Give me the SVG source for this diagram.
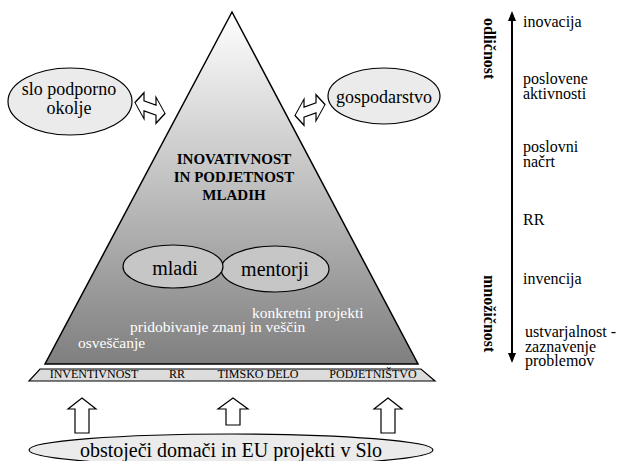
<svg xmlns="http://www.w3.org/2000/svg" width="628" height="461" viewBox="0 0 628 461">
<style>
text{font-family:"Liberation Serif","Times New Roman",serif;fill:#000}
.lbl{font-size:16px}
.ell{fill:#ebebeb;stroke:#000;stroke-width:1.2}
.inner{fill:#c6c6c6;stroke:#000;stroke-width:1.2}
.wt{fill:#ffffff;font-size:15.5px}
.band{font-size:12px}
.blk{fill:#fff;stroke:#000;stroke-width:1.2;stroke-linejoin:miter}
</style>
<defs>
<linearGradient id="tg" x1="0" y1="12" x2="0" y2="364" gradientUnits="userSpaceOnUse">
<stop offset="0" stop-color="#ffffff"/>
<stop offset="1" stop-color="#7f7f7f"/>
</linearGradient>
<path id="dbl" d="M-15,0 L-6,-13 L-6,-5 L6,-5 L6,-13 L15,0 L6,13 L6,5 L-6,5 L-6,13 Z"/>
<path id="up" d="M0,0 L14,11 L7,11 L7,35 L-7,35 L-7,11 L-14,11 Z"/>
</defs>

<g id="pyramid">
<polygon points="232,12 418,364 45,364" fill="url(#tg)" stroke="#000" stroke-width="1.5"/>
<text x="234" y="164" font-size="15" font-weight="bold" text-anchor="middle">INOVATIVNOST</text>
<text x="234" y="182" font-size="15" font-weight="bold" text-anchor="middle">IN PODJETNOST</text>
<text x="234" y="200" font-size="15" font-weight="bold" text-anchor="middle">MLADIH</text>
<text class="wt" x="252" y="318">konkretni projekti</text>
<text class="wt" x="130" y="332">pridobivanje znanj in veščin</text>
<text class="wt" x="78" y="348">osveščanje</text>
</g>

<g id="mentorji">
<ellipse class="inner" cx="275" cy="269" rx="54" ry="23"/>
<text x="275" y="276" font-size="20" text-anchor="middle">mentorji</text>
</g>
<g id="mladi">
<ellipse class="inner" cx="173" cy="266.5" rx="50" ry="21.5"/>
<text x="175" y="275" font-size="20" text-anchor="middle">mladi</text>
</g>

<g id="slo-podporno-okolje">
<ellipse class="ell" cx="70" cy="101.5" rx="62" ry="33.5"/>
<text x="69" y="95" font-size="18" text-anchor="middle">slo podporno</text>
<text x="69" y="114" font-size="18" text-anchor="middle">okolje</text>
</g>

<g id="gospodarstvo">
<ellipse class="ell" cx="384" cy="96" rx="56" ry="28"/>
<text x="384" y="103" font-size="18" text-anchor="middle">gospodarstvo</text>
</g>

<g id="band">
<polygon points="40,369 421,369 435,381 29,381" fill="#dcdcdc" stroke="#000" stroke-width="1.2"/>
<text class="band" x="94" y="378" text-anchor="middle">INVENTIVNOST</text>
<text class="band" x="177" y="378" text-anchor="middle">RR</text>
<text class="band" x="258" y="378" text-anchor="middle">TIMSKO DELO</text>
<text class="band" x="373" y="378" text-anchor="middle">PODJETNIŠTVO</text>
</g>

<g id="projekti">
<ellipse class="ell" cx="231" cy="450" rx="202" ry="16"/>
<text x="231" y="457" font-size="20" text-anchor="middle">obstoječi domači in EU projekti v Slo</text>
</g>

<g id="scale">
<text x="523" y="27" class="lbl" font-size="17">inovacija</text>
<text x="523" y="84" class="lbl">poslovene</text>
<text x="523" y="99" class="lbl">aktivnosti</text>
<text x="523" y="152" class="lbl">poslovni</text>
<text x="523" y="167" class="lbl">načrt</text>
<text x="523" y="225" class="lbl">RR</text>
<text x="523" y="284" class="lbl" font-size="17">invencija</text>
<text x="525" y="337" class="lbl" font-size="16.5">ustvarjalnost -</text>
<text x="525" y="351.5" class="lbl" font-size="16.5">zaznavenje</text>
<text x="525" y="366" class="lbl" font-size="16.5">problemov</text>
<text transform="translate(484,18) rotate(90)" font-size="16" font-weight="bold">odličnost</text>
<text transform="translate(484,275) rotate(90)" font-size="16" font-weight="bold">množičnost</text>
</g>

<g id="connectors">
<use href="#dbl" class="blk" transform="translate(150,108) skewY(20)"/>
<use href="#dbl" class="blk" transform="translate(310,110) skewY(-20)"/>
<use href="#up" class="blk" transform="translate(82,398)"/>
<path class="blk" d="M233,398 L248,409 L240,409 L240,425 L226,425 L226,409 L218,409 Z"/>
<use href="#up" class="blk" transform="translate(388,398)"/>
<line x1="512" y1="20" x2="512" y2="354" stroke="#000" stroke-width="2"/>
<polygon points="512,11 508,21 516,21" fill="#000"/>
<polygon points="512,363 508,353 516,353" fill="#000"/>
</g>
</svg>
